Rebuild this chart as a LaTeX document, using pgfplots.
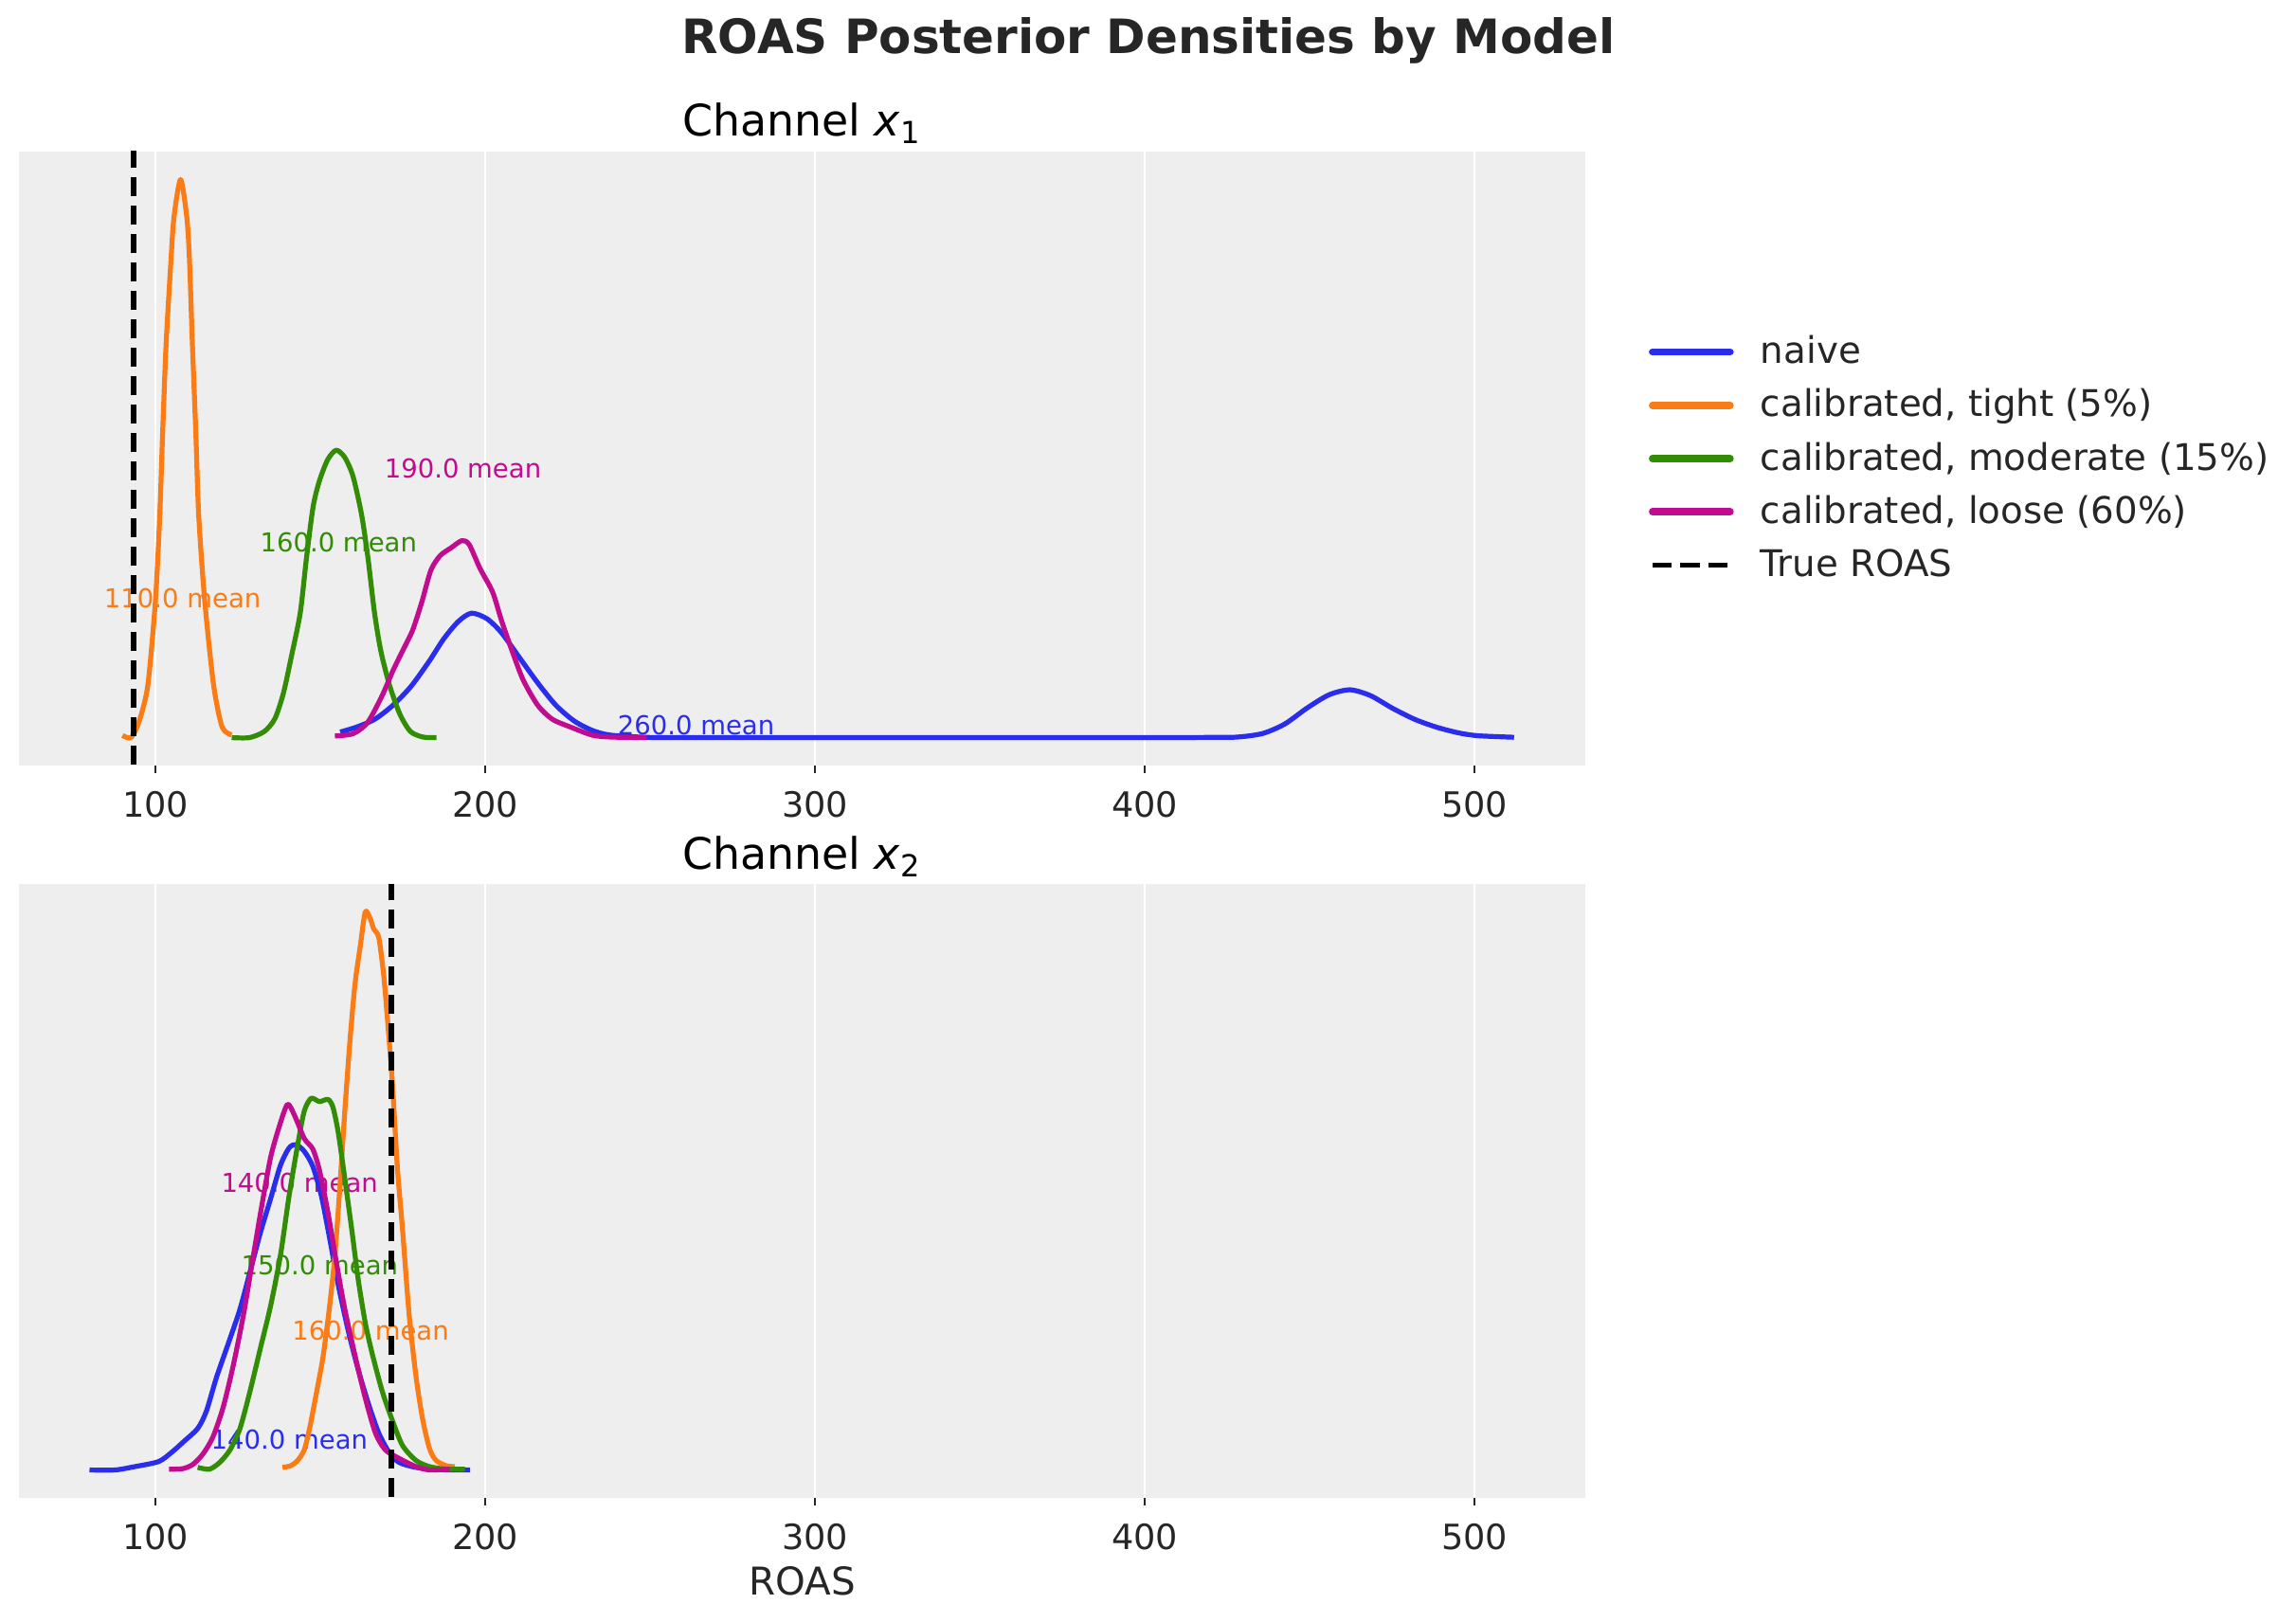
\documentclass[border=0pt]{standalone}
\usepackage{fontspec}
\setmainfont{DejaVu Sans}
\usepackage{pgfplots}
\pgfplotsset{compat=1.18}
\definecolor{cblue}{HTML}{2A2EEC}
\definecolor{corange}{HTML}{FA7C17}
\definecolor{cgreen}{HTML}{328C06}
\definecolor{cmag}{HTML}{C10C90}
\definecolor{bg}{HTML}{EEEEEE}
\definecolor{txt}{HTML}{262626}
\tikzset{lbl/.style={anchor=west, inner sep=0pt, font=\fontsize{6.6}{8}\selectfont}}
\pgfplotsset{
  myax/.style={
    width=396.7pt, height=155.52pt, scale only axis,
    xmin=58.6, xmax=533.5, ymin=-0.05, ymax=1.05,
    axis background/.style={fill=bg},
    axis line style={draw=none},
    xtick={100,200,300,400,500}, ytick=\empty,
    xtick pos=left, tick align=outside,
    major tick length=1.9pt,
    tick style={color=txt, line width=0.5pt},
    xmajorgrids, grid style={white, line width=0.5pt},
    xticklabel style={font=\fontsize{8.8}{10}\selectfont, text=txt, anchor=base, yshift=-11.2pt, inner sep=0pt},
    /pgf/number format/assume math mode=true,
    every axis plot/.append style={line width=1.25pt, line join=round},
    kde/.style={smooth, tension=0.45},
  },
}
\begin{document}
\begin{tikzpicture}
\path[use as bounding box] (0,0) rectangle (581.52pt,410.64pt);
\node[anchor=base, font=\bfseries\fontsize{12}{14}\selectfont, text=txt] at (290.9pt,397.0pt) {ROAS Posterior Densities by Model};
\node[anchor=base, font=\fontsize{11}{13}\selectfont] at (203.15pt,376.1pt) {Channel \textit{x}\textsubscript{1}};
\node[anchor=base, font=\fontsize{11}{13}\selectfont] at (203.15pt,190.56pt) {Channel \textit{x}\textsubscript{2}};
\node[anchor=base, font=\fontsize{9.7}{12}\selectfont, text=txt] at (203.15pt,6.72pt) {ROAS};

% ---------- top axis ----------
\begin{axis}[myax, at={(4.8pt,216.72pt)}, anchor=south west,
  legend cell align=left,
  legend style={at={(axis description cs:1.0406,0.5)}, anchor=west, draw=none, fill=none,
    inner sep=0pt, outer sep=0pt, font=\fontsize{9.3}{11}\selectfont, text=txt,
    row sep=5.1pt, nodes={inner sep=0pt, text height=7.1pt, text depth=1.3pt}},
  legend image code/.code={\draw[#1, sharp plot, line width=1.8pt, line cap=round] (0pt,0pt) -- (19.7pt,0pt); \path (26.7pt,0pt);},
]
\node[lbl, text=corange] at (axis cs:84.2,0.249) {110.0 mean};
\node[lbl, text=cgreen] at (axis cs:131.5,0.35) {160.0 mean};
\node[lbl, text=cmag] at (axis cs:169.2,0.482) {190.0 mean};
\node[lbl, text=cblue] at (axis cs:239.9,0.023) {260.0 mean};
\addplot[cblue, kde] coordinates {
(156.0,0.010) (161.0,0.019) (166.5,0.033) (172.0,0.058) (177.5,0.092) (183.0,0.137)
(187.4,0.177) (191.8,0.208) (195.8,0.223) (200.5,0.213) (204.9,0.188) (210.4,0.143)
(215.9,0.098) (221.4,0.058) (226.9,0.030) (232.4,0.013) (237.9,0.0045) (248.9,0.0005)
(260,0) (300,0) (350,0) (400,0) (420,0.0004) (428.1,0.001) (435.7,0.0074) (442.4,0.0244)
(449.1,0.0528) (455.8,0.0767) (462.1,0.0857) (468.3,0.0755) (475.0,0.0528) (481.7,0.033)
(488.4,0.0187) (495.1,0.0085) (500.9,0.0034) (511.9,0.0006)};
\addlegendentry{naive}
\addplot[corange, kde] coordinates {
(90.0,0.004) (92.6,0) (95.1,0.030) (97.7,0.095) (100.0,0.247) (101.3,0.399) (102.2,0.551)
(103.2,0.703) (104.7,0.856) (105.6,0.932) (107.6,1.0) (109.5,0.932) (110.3,0.856)
(111.2,0.703) (112.2,0.551) (113.1,0.399) (114.9,0.247) (117.6,0.095) (120.2,0.019) (123.1,0.005)};
\addlegendentry{calibrated, tight (5\%)}
\addplot[cgreen, kde] coordinates {
(123.1,0) (128.5,0) (133.0,0.011) (136.2,0.034) (138.8,0.080) (141.3,0.148) (143.9,0.224)
(145.8,0.323) (147.8,0.414) (149.7,0.46) (152.2,0.498) (154.8,0.515) (157.4,0.502)
(159.9,0.468) (162.5,0.399) (164.4,0.323) (166.4,0.224) (168.3,0.156) (170.9,0.095)
(174.1,0.042) (177.3,0.011) (181.1,0.001) (185.2,0)};
\addlegendentry{calibrated, moderate (15\%)}
\addplot[cmag, kde] coordinates {
(154.4,0.003) (159.9,0.007) (164.3,0.027) (168.7,0.075) (172.0,0.12) (175.3,0.16)
(178.0,0.193) (180.8,0.244) (183.5,0.30) (186.3,0.326) (189.6,0.34) (192.9,0.353)
(195.1,0.346) (198.4,0.303) (202.2,0.261) (204.9,0.21) (208.2,0.154) (211.5,0.103)
(215.9,0.058) (220.3,0.033) (225.8,0.019) (232.4,0.0045) (237.9,0.001) (248.9,0)};
\addlegendentry{calibrated, loose (60\%)}
\addplot[black, line width=1.4pt, dash pattern=on 4.8pt off 2.4pt,
  legend image code/.code={\draw[black, line width=1.4pt, dash pattern=on 4.9pt off 2.2pt] (0pt,0pt) -- (19.1pt,0pt); \path (26.7pt,0pt);}]
  coordinates {(93.3,-0.1) (93.3,1.1)};
\addlegendentry{True ROAS}
\end{axis}

% ---------- bottom axis ----------
\begin{axis}[myax, at={(4.8pt,31.2pt)}, anchor=south west]
\node[lbl, text=cmag] at (axis cs:119.7,0.514) {140.0 mean};
\node[lbl, text=cgreen] at (axis cs:125.8,0.366) {150.0 mean};
\node[lbl, text=corange] at (axis cs:141.2,0.249) {160.0 mean};
\node[lbl, text=cblue] at (axis cs:116.6,0.055) {140.0 mean};
\addplot[cblue, kde] coordinates {
(80.0,0) (87.7,0) (93.8,0.0061) (101.0,0.0152) (105.1,0.0326) (108.7,0.0516) (112.8,0.0744)
(115.4,0.105) (118.5,0.166) (122.1,0.227) (125.6,0.288) (128.7,0.356) (131.8,0.425)
(134.9,0.486) (137.9,0.546) (140.5,0.577) (142.6,0.583) (145.1,0.571) (147.7,0.544)
(150.3,0.491) (152.8,0.415) (155.4,0.332) (158.5,0.248) (161.5,0.179) (164.6,0.118)
(167.7,0.066) (170.8,0.032) (173.8,0.0137) (179.0,0.0046) (186.2,0.0005) (195.4,0)};
\addplot[corange, kde] coordinates {
(138.5,0.0046) (141.0,0.0076) (143.1,0.017) (145.1,0.036) (146.7,0.074) (148.7,0.135)
(150.8,0.203) (152.8,0.294) (154.4,0.385) (155.9,0.507) (157.4,0.643) (159.0,0.772)
(160.5,0.871) (162.1,0.939) (163.6,1.0) (165.1,0.988) (166.2,0.969) (167.7,0.954)
(169.2,0.886) (170.3,0.810) (171.8,0.696) (173.3,0.545) (174.9,0.431) (176.9,0.279)
(179.0,0.167) (181.0,0.091) (183.1,0.038) (185.1,0.017) (188.2,0.0076) (190.8,0.006)};
\addplot[cgreen, kde] coordinates {
(112.8,0.0046) (116.4,0.0015) (119.5,0.0137) (122.6,0.036) (125.6,0.074) (128.7,0.142)
(131.8,0.218) (134.9,0.294) (137.9,0.385) (140.5,0.491) (143.1,0.582) (145.1,0.643)
(147.2,0.666) (149.7,0.66) (152.3,0.664) (153.8,0.65) (155.4,0.605) (157.4,0.522)
(159.5,0.431) (161.5,0.34) (163.6,0.264) (165.6,0.211) (168.7,0.142) (171.8,0.089)
(174.9,0.044) (179.0,0.017) (183.1,0.006) (188.2,0.0015) (193.8,0.0015)};
\addplot[cmag, kde] coordinates {
(104.1,0.0015) (108.2,0.0023) (111.3,0.0099) (114.4,0.0288) (117.4,0.059) (120.5,0.112)
(123.6,0.188) (126.7,0.279) (129.7,0.385) (132.3,0.476) (134.9,0.56) (137.4,0.613)
(140.0,0.655) (142.1,0.636) (145.1,0.594) (147.7,0.575) (149.7,0.537) (152.3,0.461)
(154.9,0.37) (157.4,0.288) (160.5,0.205) (163.6,0.129) (166.7,0.066) (169.7,0.036)
(173.8,0.021) (179.0,0.006) (183.1,0) (189.2,0.0015)};
\addplot[black, line width=1.4pt, dash pattern=on 4.8pt off 2.4pt]
  coordinates {(171.5,-0.1) (171.5,1.1)};
\end{axis}
\end{tikzpicture}
\end{document}
